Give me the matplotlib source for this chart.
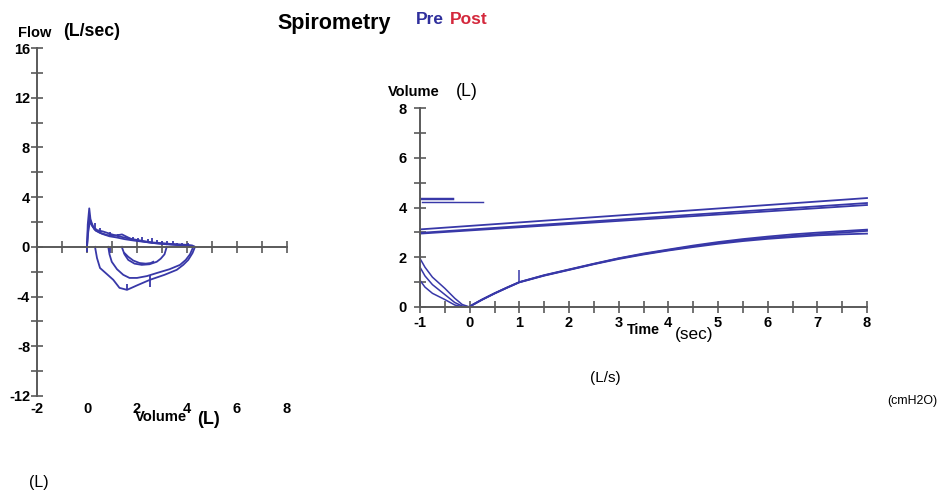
import matplotlib
matplotlib.use("Agg")
import matplotlib.pyplot as plt
import numpy as np

plt.rcParams['font.family'] = ['Liberation Sans', 'DejaVu Sans']
plt.rcParams['axes.unicode_minus'] = False

BLUE = "#3838a8"
AX = "#5a5a5a"
LW = 1.3

# ---------------- Flow-volume data (Volume L, Flow L/s) ----------------
exp1_v = [0.0, 0.03, 0.09, 0.14, 0.25, 0.4, 0.65, 1.0, 1.32, 1.6, 1.99, 2.3, 2.65, 3.0, 3.32, 3.7, 3.99, 4.2, 4.32]
exp1_f = [0.0, 1.8, 3.1, 2.2, 1.6, 1.35, 1.23, 1.0, 0.83, 0.7, 0.56, 0.45, 0.35, 0.3, 0.24, 0.2, 0.16, 0.12, 0.0]
exp2_v = [0.0, 0.04, 0.1, 0.16, 0.3, 0.5, 0.8, 1.1, 1.4, 1.8, 2.2, 2.6, 3.0, 3.4, 3.8, 4.1, 4.3]
exp2_f = [0.0, 1.5, 2.5, 1.9, 1.4, 1.15, 0.95, 0.9, 1.0, 0.6, 0.45, 0.32, 0.25, 0.2, 0.14, 0.1, 0.0]
exp3_v = [0.0, 0.05, 0.12, 0.2, 0.35, 0.6, 0.9, 1.2, 1.5, 1.9, 2.3, 2.7, 3.1, 3.5, 3.9, 4.25]
exp3_f = [0.0, 1.2, 2.1, 1.7, 1.3, 1.05, 0.85, 0.75, 0.62, 0.5, 0.4, 0.3, 0.22, 0.16, 0.1, 0.0]
spike_v = [0.3, 0.5, 0.9, 1.25, 1.85, 2.05, 2.2, 2.45, 2.6, 2.8, 3.0, 3.2, 3.45, 3.6, 3.8, 4.05]
spike_lo = [1.4, 1.2, 0.9, 0.75, 0.55, 0.5, 0.45, 0.38, 0.35, 0.3, 0.28, 0.25, 0.2, 0.18, 0.15, 0.12]
spike_hi = [1.9, 1.5, 1.2, 1.05, 0.8, 0.75, 0.8, 0.6, 0.7, 0.55, 0.5, 0.45, 0.45, 0.35, 0.3, 0.3]

insp1_v = [4.32, 4.22, 4.05, 3.85, 3.59, 3.1, 2.52, 2.0, 1.6, 1.3, 1.05, 0.8, 0.52, 0.4, 0.32]
insp1_f = [0.0, -0.5, -1.05, -1.45, -1.85, -2.25, -2.65, -3.1, -3.46, -3.3, -2.65, -2.2, -1.7, -0.9, 0.0]
insp2_v = [4.25, 4.12, 3.95, 3.72, 3.3, 2.8, 2.4, 2.0, 1.7, 1.45, 1.2, 0.99, 0.9, 0.85]
insp2_f = [0.0, -0.6, -1.05, -1.45, -1.8, -2.1, -2.35, -2.5, -2.5, -2.25, -1.8, -1.2, -0.6, 0.0]
insp3_v = [3.19, 3.1, 2.95, 2.79, 2.5, 2.19, 1.9, 1.65, 1.5, 1.39]
insp3_f = [0.0, -0.6, -0.95, -1.2, -1.4, -1.45, -1.35, -1.05, -0.6, 0.0]
insp4_v = [2.65, 2.55, 2.35, 2.1, 1.85, 1.65, 1.5]
insp4_f = [-1.2, -1.3, -1.35, -1.3, -1.1, -0.8, -0.5]
mark_v = [0.0, 0.9, 1.6, 2.5]
mark_lo = [-0.4, -0.5, -3.45, -3.2]
mark_hi = [0.0, 0.0, -2.95, -2.3]

fv_xticks = [-2, 0, 2, 4, 6, 8]
fv_yticks = [-12, -8, -4, 0, 4, 8, 12, 16]

# ---------------- Volume-time data (Time s, Volume L) ----------------
main_t = [0, 0.05, 0.25, 0.5, 0.75, 1, 1.5, 2, 2.5, 3, 3.5, 4, 4.5, 5, 5.5, 6, 6.5, 7, 7.5, 8]
main1_v = [0, 0.08, 0.3, 0.55, 0.78, 1.0, 1.27, 1.5, 1.73, 1.95, 2.13, 2.29, 2.44, 2.58, 2.69, 2.78, 2.86, 2.93, 2.99, 3.06]
main2_v = [0, 0.07, 0.29, 0.54, 0.77, 0.99, 1.26, 1.49, 1.72, 1.93, 2.11, 2.27, 2.41, 2.54, 2.65, 2.74, 2.81, 2.88, 2.92, 2.95]
main3_v = [0, 0.08, 0.3, 0.55, 0.78, 1.0, 1.28, 1.51, 1.74, 1.96, 2.15, 2.31, 2.47, 2.61, 2.73, 2.83, 2.92, 2.99, 3.05, 3.11]

pre_t = [-1, -0.9, -0.75, -0.5, -0.3, -0.15, 0]
preA_v = [1.95, 1.6, 1.2, 0.75, 0.35, 0.1, 0.0]
preB_v = [1.6, 1.25, 0.9, 0.5, 0.18, 0.04, 0.0]
preC_v = [1.07, 0.8, 0.55, 0.3, 0.08, 0.01, 0.0]

lin_t = [-1, 8]
lin1_v = [3.12, 4.38]
lin2_v = [2.98, 4.18]
lin3_v = [2.95, 4.10]

seg_t = [[-1, -0.33], [-1, -0.33], [-0.95, 0.27]]
seg_v = [4.40, 4.34, 4.23]

tick_t = [1.0]
tick_lo = [1.0]
tick_hi = [1.5]

vt_xticks = [-1, 0, 1, 2, 3, 4, 5, 6, 7, 8]
vt_yticks = [0, 2, 4, 6, 8]

W, H = 938, 496
fig = plt.figure(figsize=(W / 100, H / 100), dpi=100)


def fx(px):
    return px / W


def fy(py):
    return 1 - py / H


# ---------- Left: flow-volume ----------
ax1 = fig.add_axes([fx(37), fy(396), fx(287) - fx(37), fy(48) - fy(396)])
ax1.set_xlim(-2, 8)
ax1.set_ylim(-12, 16)
for s in ['top', 'right']:
    ax1.spines[s].set_visible(False)
ax1.spines['bottom'].set_position(('data', 0))
for s in ['left', 'bottom']:
    ax1.spines[s].set_color(AX)
    ax1.spines[s].set_linewidth(1.4)
ax1.set_xticks(np.arange(-2, 8.01, 1))
ax1.set_yticks(fv_yticks)
ax1.set_yticks(np.arange(-12, 16.01, 2), minor=True)
ax1.tick_params(axis='x', which='both', direction='inout', length=8, width=1.2, color=AX, labelbottom=False)
ax1.tick_params(axis='y', which='both', direction='inout', length=8, width=1.2, color=AX, pad=1,
                labelsize=10.5, labelcolor='black')
for lab in ax1.get_yticklabels():
    lab.set_fontweight('bold')
for v in fv_xticks:
    ax1.annotate(str(v), xy=(v, 0), xycoords=('data', 'axes fraction'), xytext=(0, -4),
                 textcoords='offset points', ha='center', va='top', fontsize=10.5, fontweight='bold')

for vv, ff in [(exp1_v, exp1_f), (exp2_v, exp2_f), (exp3_v, exp3_f),
               (insp1_v, insp1_f), (insp2_v, insp2_f), (insp3_v, insp3_f), (insp4_v, insp4_f)]:
    ax1.plot(vv, ff, color=BLUE, lw=LW, solid_joinstyle='round')
ax1.vlines(spike_v, spike_lo, spike_hi, color=BLUE, lw=LW)
ax1.vlines(mark_v, mark_lo, mark_hi, color=BLUE, lw=LW)

# ---------- Right: volume-time ----------
ax2 = fig.add_axes([fx(420), fy(307), fx(867) - fx(420), fy(108) - fy(307)])
ax2.set_xlim(-1, 8)
ax2.set_ylim(0, 8)
for s in ['top', 'right']:
    ax2.spines[s].set_visible(False)
for s in ['left', 'bottom']:
    ax2.spines[s].set_color(AX)
    ax2.spines[s].set_linewidth(1.4)
ax2.set_xticks(vt_xticks)
ax2.set_xticks(np.arange(-1, 8.01, 0.5), minor=True)
ax2.set_yticks(vt_yticks)
ax2.set_yticks(np.arange(0, 8.01, 1), minor=True)
ax2.tick_params(which='both', direction='inout', length=9, width=1.2, color=AX,
                labelsize=10.5, labelcolor='black')
ax2.tick_params(axis='x', pad=2)
ax2.tick_params(axis='y', pad=5)
for lab in ax2.get_xticklabels() + ax2.get_yticklabels():
    lab.set_fontweight('bold')

for vv in [main1_v, main2_v, main3_v]:
    ax2.plot(main_t, vv, color=BLUE, lw=LW, clip_on=False)
for vv in [preA_v, preB_v, preC_v]:
    ax2.plot(pre_t, vv, color=BLUE, lw=LW * 0.85, clip_on=False)
for vv in [lin1_v, lin2_v, lin3_v]:
    ax2.plot(lin_t, vv, color=BLUE, lw=LW, clip_on=False)
for tt, vv in zip(seg_t, seg_v):
    ax2.plot(tt, [vv, vv], color=BLUE, lw=LW * 0.8, clip_on=False)
ax2.vlines(tick_t, tick_lo, tick_hi, color=BLUE, lw=LW * 0.85)

# ---------- Texts ----------
fig.text(fx(18), fy(33), "Flow", fontsize=10.5, fontweight='bold', ha='left', va='center')
fig.text(fx(63), fy(32), "(L/sec)", fontsize=12.7, fontweight='bold', ha='left', va='center')
fig.text(fx(277), fy(23), "Spirometry", fontsize=15.5, fontweight='bold', ha='left', va='center')
fig.text(fx(416), fy(20), "Pre", fontsize=12.5, fontweight='bold', color="#2f2f9c", ha='left', va='center')
fig.text(fx(450), fy(20), "Post", fontsize=12.5, fontweight='bold', color="#d4283c", ha='left', va='center')
fig.text(fx(135), fy(417), "Volume", fontsize=10.6, fontweight='bold', ha='left', va='center')
fig.text(fx(197), fy(419), "(L)", fontsize=13, fontweight='bold', ha='left', va='center')
fig.text(fx(388), fy(92), "Volume", fontsize=10.5, fontweight='bold', ha='left', va='center')
fig.text(fx(456), fy(91), "(L)", fontsize=12.8, ha='left', va='center')
fig.text(fx(627), fy(330), "Time", fontsize=10.3, fontweight='bold', ha='left', va='center')
fig.text(fx(675), fy(334), "(sec)", fontsize=12.4, ha='left', va='center')
fig.text(fx(590), fy(378), "(L/s)", fontsize=11, ha='left', va='center')
fig.text(fx(887), fy(401), "(cmH2O)", fontsize=8.9, ha='left', va='center')
fig.text(fx(29), fy(483), "(L)", fontsize=11.5, ha='left', va='center')

fig.savefig("out.png", dpi=100)
